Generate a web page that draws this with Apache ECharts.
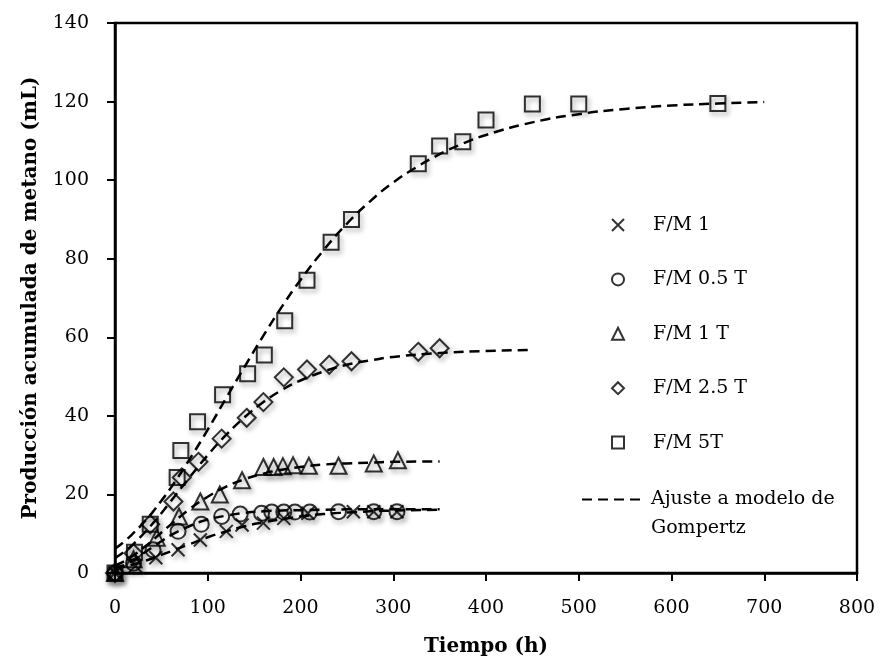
<!DOCTYPE html>
<html>
<head>
<meta charset="utf-8">
<script src="https://cdn.jsdelivr.net/npm/echarts@6/dist/echarts.min.js"></script>
<style>
  html, body { margin: 0; padding: 0; background: #fff; }
  #chart { width: 881px; height: 662px; }
</style>
</head>
<body>
<div id="chart"></div>
<script>
// datos (tiempo en h, volumen en mL)
const crossX = [0, 22, 44, 68, 92, 120, 137, 160, 182, 208, 257, 279, 304]
const crossY = [0, 1.8, 3.9, 5.9, 8.4, 10.6, 12.2, 12.7, 13.9, 15.2, 15.6, 15.6, 15.6]
const circleX = [0, 20, 41, 68, 93, 115, 135, 158, 169, 182, 194, 210, 241, 279, 304]
const circleY = [0, 2.5, 5.9, 10.6, 12.4, 14.4, 15.0, 15.2, 15.5, 15.5, 15.5, 15.5, 15.6, 15.6, 15.6]
const triangleX = [0, 20, 45, 69, 92, 113, 137, 160, 171, 181, 192, 209, 241, 279, 305]
const triangleY = [0, 3.5, 9.0, 14.4, 18.2, 20.0, 23.6, 27.0, 27.0, 27.2, 27.4, 27.3, 27.3, 27.9, 28.7]
const diamondX = [0, 20, 38, 63, 72, 90, 115, 142, 160, 182, 207, 231, 255, 327, 350]
const diamondY = [0, 5.0, 12.4, 18.2, 24.3, 28.3, 34.2, 39.5, 43.5, 49.8, 51.8, 53.0, 53.9, 56.3, 57.2]
const squareX = [0, 21, 38, 67, 71, 89, 116, 143, 161, 183, 207, 233, 255, 327, 350, 375, 400, 450, 500, 650]
const squareY = [0, 5.3, 12.4, 24.3, 31.2, 38.5, 45.4, 50.7, 55.5, 64.2, 74.5, 84.2, 90.0, 104.2, 108.7, 109.8, 115.3, 119.4, 119.4, 119.5]

// curvas de ajuste (Gompertz)
const fitTimeShort = [0, 10, 20, 30, 40, 50, 60, 80, 100, 120, 140, 160, 180, 200, 225, 250, 275, 300, 350]
const fitCross = [1.1, 1.6, 2.2, 2.9, 3.7, 4.6, 5.5, 7.3, 9.1, 10.6, 11.9, 12.9, 13.7, 14.4, 15.0, 15.4, 15.7, 15.9, 16.1]
const fitCircle = [1.1, 2.0, 3.4, 4.9, 6.5, 8.1, 9.6, 11.9, 13.6, 14.6, 15.3, 15.7, 15.9, 16.0, 16.1, 16.2, 16.2, 16.2, 16.2]
const fitTriangle = [1.9, 3.0, 4.5, 6.3, 8.2, 10.3, 12.3, 16.2, 19.4, 22.0, 23.9, 25.3, 26.3, 27.0, 27.6, 27.9, 28.1, 28.3, 28.4]
const fitTimeDiamond = [0, 10, 20, 30, 40, 50, 60, 80, 100, 120, 140, 160, 180, 200, 225, 250, 275, 300, 350, 400, 450]
const fitDiamond = [3.8, 5.4, 7.4, 9.8, 12.4, 15.2, 18.2, 24.2, 30.0, 35.2, 39.7, 43.5, 46.6, 49.0, 51.3, 53.0, 54.1, 55.0, 56.0, 56.5, 56.8]
const fitTimeSquare = [0, 10, 20, 30, 40, 50, 60, 80, 100, 120, 140, 160, 180, 200, 225, 250, 275, 300, 325, 350, 375, 400, 450, 500, 550, 600, 650, 700]
const fitSquare = [6.2, 8.0, 10.2, 12.6, 15.3, 18.4, 21.6, 28.8, 36.5, 44.6, 52.6, 60.4, 67.8, 74.6, 82.2, 88.9, 94.6, 99.4, 103.3, 106.6, 109.3, 111.5, 114.7, 116.8, 118.1, 119.0, 119.5, 119.9]

const seriesNames = ['F/M 1', 'F/M 0.5 T', 'F/M 1 T', 'F/M 2.5 T', 'F/M 5T']
const fitName = 'Ajuste a modelo de Gompertz'

const FONT = 'DejaVu Serif'

function pairs(xs, ys) {
  return xs.map((x, i) => [x, ys[i]])
}

const markerStyle = {
  color: 'transparent',
  borderColor: '#000',
  borderWidth: 2,
  shadowBlur: 5,
  shadowColor: 'rgba(0,0,0,0.45)',
  shadowOffsetX: 2,
  shadowOffsetY: 3
}

function scatter(name, symbol, size, xs, ys) {
  return {
    name: name,
    type: 'scatter',
    symbol: symbol,
    symbolSize: size,
    z: 3,
    itemStyle: markerStyle,
    data: pairs(xs, ys)
  }
}

function fit(xs, ys) {
  return {
    name: fitName,
    type: 'line',
    showSymbol: false,
    symbol: 'none',
    smooth: true,
    z: 2,
    color: '#000',
    lineStyle: { color: '#000', width: 2.5, type: [10, 6] },
    data: pairs(xs, ys)
  }
}

const chart = echarts.init(document.getElementById('chart'))

chart.setOption({
  backgroundColor: '#fff',
  animation: false,
  grid: {
    left: 115,
    right: 24,
    top: 23,
    bottom: 88,
    show: true,
    borderColor: '#000',
    borderWidth: 2.5
  },
  legend: [
    {
      orient: 'vertical',
      left: 606,
      top: 210,
      itemWidth: 12,
      itemHeight: 12,
      itemGap: 34.4,
      data: seriesNames,
      textStyle: { fontFamily: FONT, fontSize: 19, color: '#000', lineHeight: 20, padding: [0, 0, 0, 24] },
      itemStyle: { shadowBlur: 0, shadowOffsetX: 0, shadowOffsetY: 0, borderWidth: 2 }
    },
    {
      left: 576,
      top: 451,
      itemWidth: 64,
      itemHeight: 20,
      data: [fitName],
      // primera linea en blanco para que el icono quede a la altura de "Ajuste"
      formatter: () => '\nAjuste a modelo de\nGompertz',
      itemStyle: { color: 'transparent', borderWidth: 0, opacity: 0 },
      textStyle: { fontFamily: FONT, fontSize: 19, color: '#000', lineHeight: 29 }
    }
  ],
  xAxis: {
    type: 'value',
    min: 0,
    max: 800,
    interval: 100,
    name: 'Tiempo (h)',
    nameLocation: 'middle',
    nameGap: 64,
    nameTextStyle: { fontFamily: FONT, fontSize: 20, fontWeight: 'bold', color: '#000' },
    axisLine: { lineStyle: { color: '#000', width: 2.5 } },
    axisTick: { inside: false, length: 8, lineStyle: { color: '#000', width: 2 } },
    axisLabel: { fontFamily: FONT, fontSize: 19, color: '#000', margin: 26 },
    splitLine: { show: false }
  },
  yAxis: {
    type: 'value',
    min: 0,
    max: 140,
    interval: 20,
    name: 'Producción acumulada de metano (mL)',
    nameLocation: 'middle',
    nameGap: 74,
    nameTextStyle: { fontFamily: FONT, fontSize: 20, fontWeight: 'bold', color: '#000' },
    axisLine: { show: true, lineStyle: { color: '#000', width: 2.5 } },
    axisTick: { show: true, inside: false, length: 8, lineStyle: { color: '#000', width: 2 } },
    axisLabel: { fontFamily: FONT, fontSize: 19, color: '#000', margin: 26 },
    splitLine: { show: false }
  },
  series: [
    fit(fitTimeShort, fitCross),
    fit(fitTimeShort, fitCircle),
    fit(fitTimeShort, fitTriangle),
    fit(fitTimeDiamond, fitDiamond),
    fit(fitTimeSquare, fitSquare),
    scatter(seriesNames[0], 'path://M0,0L10,10M10,0L0,10', 13, crossX, crossY),
    scatter(seriesNames[1], 'circle', 15, circleX, circleY),
    scatter(seriesNames[2], 'triangle', 16, triangleX, triangleY),
    scatter(seriesNames[3], 'diamond', 18, diamondX, diamondY),
    scatter(seriesNames[4], 'rect', 15, squareX, squareY)
  ]
})
</script>
</body>
</html>
